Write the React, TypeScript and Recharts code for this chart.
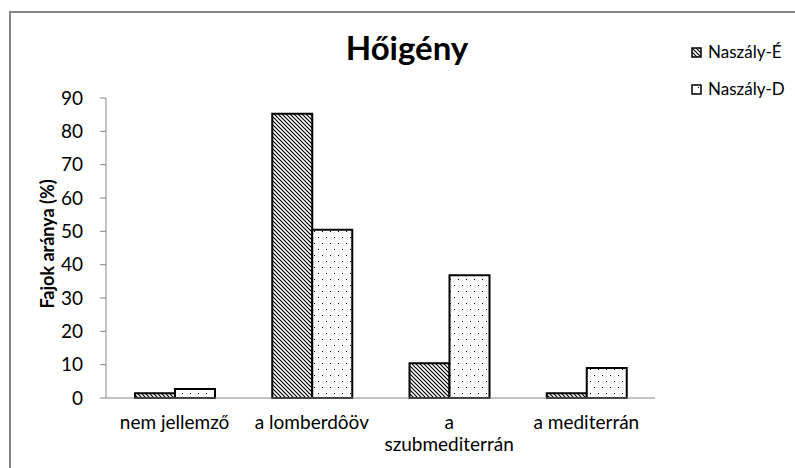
import { BarChart, Bar, XAxis, YAxis } from "recharts";

const categories = ["nem jellemző", "a lomberdôöv", "a szubmediterrán", "a mediterrán"];
const naszalyE = [1.4, 85.3, 10.4, 1.4];
const naszalyD = [2.7, 50.5, 36.8, 9.0];
const yTicks = [0, 10, 20, 30, 40, 50, 60, 70, 80, 90];
const seriesNames = ["Naszály-É", "Naszály-D"];
const seriesFills = ["url(#hatch)", "url(#dots)"];

const data = categories.map((name, i) => ({ name, e: naszalyE[i], d: naszalyD[i] }));

const FONT = "Lato, 'DejaVu Sans', sans-serif";
const AXIS = "#868686";

// greedy word wrap, like Excel does on narrow category slots
function wrap(text: string, maxChars: number) {
  const words = text.split(" ");
  const lines: string[] = [];
  let cur = "";
  for (const w of words) {
    if (cur && (cur + " " + w).length > maxChars) {
      lines.push(cur);
      cur = w;
    } else {
      cur = cur ? cur + " " + w : w;
    }
  }
  if (cur) lines.push(cur);
  return lines;
}

function CategoryTick(props: any) {
  const { x, y, payload } = props;
  const lines = wrap(payload.value, 14);
  return (
    <text x={x} y={y} textAnchor="middle" fontSize={19} fill="#000" fontFamily={FONT}>
      {lines.map((l, i) => (
        <tspan key={i} x={x} dy={i === 0 ? 31 : 22}>
          {l}
        </tspan>
      ))}
    </text>
  );
}

export default function App() {
  return (
    <div style={{ position: "absolute", left: 0, top: 0, width: 795, height: 468, overflow: "hidden", background: "#fff", fontFamily: FONT }}>
      <svg width={0} height={0} style={{ position: "absolute" }}>
        <defs>
          <pattern id="hatch" width={4} height={4} patternUnits="userSpaceOnUse">
            <rect width={4} height={4} fill="#fff" />
            <path d="M-1,-1 L5,5 M-1,3 L1,5 M3,-1 L5,1" stroke="#000" strokeWidth={1.2} />
          </pattern>
          <pattern id="dots" width={8} height={12} patternUnits="userSpaceOnUse">
            <rect width={8} height={12} fill="#fff" />
            <rect x={2} y={3} width={1} height={1} fill="#000" />
            <rect x={6} y={9} width={1} height={1} fill="#000" />
          </pattern>
        </defs>
      </svg>
      <div style={{ position: "absolute", left: 9, top: 11, width: 900, height: 600, borderTop: `2px solid ${AXIS}`, borderLeft: `2px solid ${AXIS}` }} />
      <div style={{ position: "absolute", left: 0, top: 0 }}>
        <BarChart width={795} height={468} data={data} margin={{ top: 98, right: 140, bottom: 40, left: 0 }} barGap={0} barSize={40}>
          <YAxis
            width={106}
            domain={[0, 90]}
            ticks={yTicks}
            interval={0}
            stroke={AXIS}
            tickSize={6}
            tickMargin={17}
            tick={{ fontSize: 19, fill: "#000", fontFamily: FONT }}
          />
          <XAxis dataKey="name" height={30} stroke={AXIS} tickLine={false} tickSize={0} tickMargin={0} interval={0} tick={<CategoryTick />} />
          <Bar dataKey="e" name={seriesNames[0]} fill={seriesFills[0]} stroke="#000" strokeWidth={2} isAnimationActive={false} />
          <Bar dataKey="d" name={seriesNames[1]} fill={seriesFills[1]} stroke="#000" strokeWidth={2} isAnimationActive={false} />
        </BarChart>
      </div>
      <svg width={795} height={468} style={{ position: "absolute", left: 0, top: 0, pointerEvents: "none" }}>
        <text x={407} y={60} textAnchor="middle" fontSize={33} fontWeight="bold" fill="#000" fontFamily={FONT}>
          Hőigény
        </text>
        <text transform="translate(54,244) rotate(-90)" textAnchor="middle" fontSize={18} fontWeight="bold" fill="#000" fontFamily={FONT}>
          Fajok aránya (%)
        </text>
        {seriesNames.map((n, i) => (
          <g key={n}>
            <rect x={692} y={48 + i * 37} width={9} height={9} fill={seriesFills[i]} stroke="#000" strokeWidth={1.5} />
            <text x={708} y={58 + i * 37} fontSize={17} fill="#000" fontFamily={FONT}>
              {n}
            </text>
          </g>
        ))}
      </svg>
    </div>
  );
}
